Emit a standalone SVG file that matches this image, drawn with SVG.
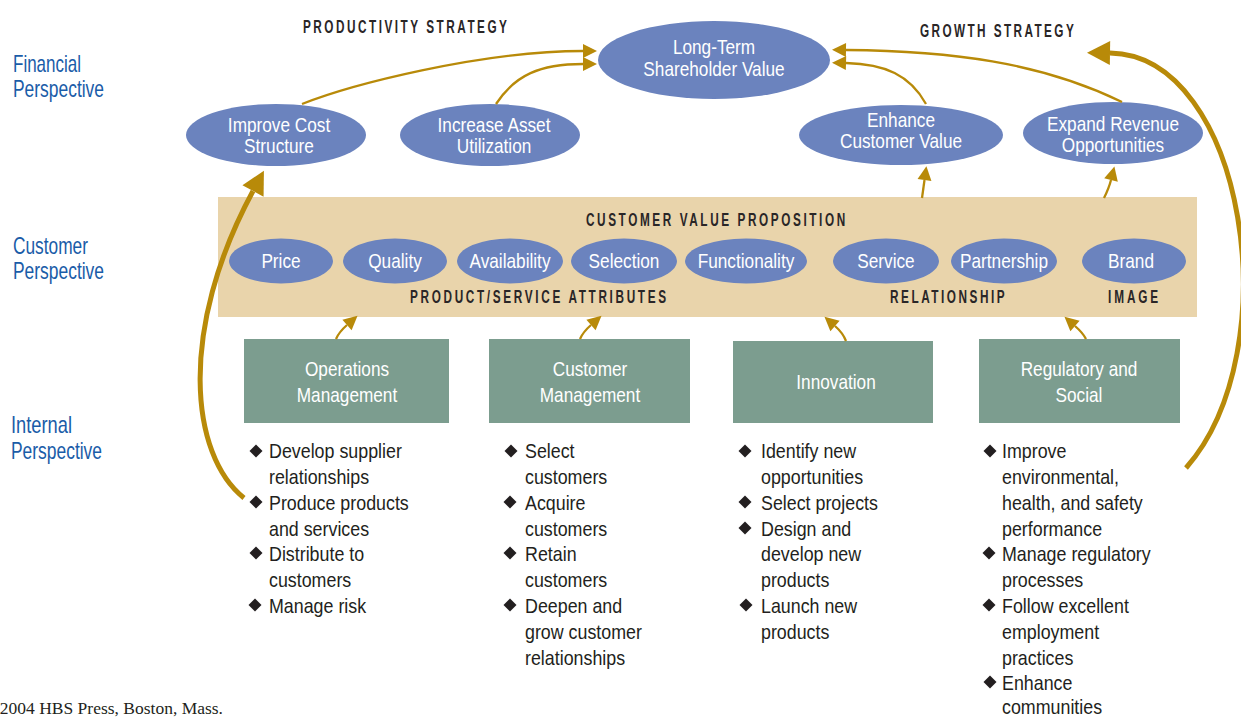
<svg xmlns="http://www.w3.org/2000/svg" width="1241" height="717" viewBox="0 0 1241 717">
<style>
  .n{font-family:"Liberation Sans",Arial,sans-serif;}
  .ell{fill:#6b83be;}
  .box{fill:#7c9d8f;}
  .wt{fill:#ffffff;font-size:21px;text-anchor:middle;}
  .cap{fill:#2a2627;font-size:19px;font-weight:bold;}
  .persp{fill:#1a5ca8;font-size:24px;}
  .bl{fill:#231f20;font-size:21px;}
  .dia{fill:#231f20;}
  .thin{fill:none;stroke:#b88a09;stroke-width:2.3;}
  .thick{fill:none;stroke:#b88a09;stroke-width:5;}
</style>
<defs>
  <marker id="ah" markerUnits="userSpaceOnUse" viewBox="0 -7 14 14" refX="0" refY="0" markerWidth="14" markerHeight="14" orient="auto" overflow="visible">
    <path d="M0,-7 L14,0 L0,7 Z" fill="#b88a09"/>
  </marker>
  <marker id="ahb" markerUnits="userSpaceOnUse" viewBox="0 -12 23 24" refX="0" refY="0" markerWidth="23" markerHeight="24" orient="auto" overflow="visible">
    <path d="M0,-12 L23,0 L0,12 Z" fill="#b88a09"/>
  </marker>
  <path id="d" d="M-6.5,0 L0,-6.5 L6.5,0 L0,6.5 Z"/>
</defs>
<rect width="1241" height="717" fill="#ffffff"/>

<g id="titles" class="n">
  <text class="cap" transform="translate(303,33) scale(0.62,1)" textLength="329" lengthAdjust="spacing">PRODUCTIVITY STRATEGY</text>
  <text class="cap" transform="translate(920,37) scale(0.62,1)" textLength="248" lengthAdjust="spacing">GROWTH STRATEGY</text>
</g>

<g id="perspectives" class="n">
  <text class="persp" x="13" y="72" textLength="68" lengthAdjust="spacingAndGlyphs">Financial</text>
  <text class="persp" x="13" y="97" textLength="91" lengthAdjust="spacingAndGlyphs">Perspective</text>
  <text class="persp" x="13" y="254" textLength="75" lengthAdjust="spacingAndGlyphs">Customer</text>
  <text class="persp" x="13" y="279" textLength="91" lengthAdjust="spacingAndGlyphs">Perspective</text>
  <text class="persp" x="11" y="433" textLength="61" lengthAdjust="spacingAndGlyphs">Internal</text>
  <text class="persp" x="11" y="459" textLength="91" lengthAdjust="spacingAndGlyphs">Perspective</text>
</g>

<g id="band">
  <rect x="218" y="197" width="979" height="120" fill="#e9d4ab"/>
  <g class="n">
    <text class="cap" transform="translate(586,226) scale(0.62,1)" textLength="418" lengthAdjust="spacing">CUSTOMER VALUE PROPOSITION</text>
    <text class="cap" transform="translate(410,303) scale(0.62,1)" textLength="413" lengthAdjust="spacing">PRODUCT/SERVICE ATTRIBUTES</text>
    <text class="cap" transform="translate(890,303) scale(0.62,1)" textLength="185" lengthAdjust="spacing">RELATIONSHIP</text>
    <text class="cap" transform="translate(1108,303) scale(0.62,1)" textLength="81" lengthAdjust="spacing">IMAGE</text>
  </g>
</g>

<g id="node-longterm" class="n">
  <ellipse class="ell" cx="714" cy="60" rx="116" ry="39"/>
  <text class="wt" transform="translate(714,54) scale(0.82,1)">Long-Term</text>
  <text class="wt" transform="translate(714,76) scale(0.82,1)">Shareholder Value</text>
</g>
<g id="node-improve-cost" class="n">
  <ellipse class="ell" cx="276" cy="135" rx="90" ry="31"/>
  <text class="wt" transform="translate(279,132) scale(0.82,1)">Improve Cost</text>
  <text class="wt" transform="translate(279,153) scale(0.82,1)">Structure</text>
</g>
<g id="node-increase-asset" class="n">
  <ellipse class="ell" cx="490" cy="135" rx="90" ry="31"/>
  <text class="wt" transform="translate(494,132) scale(0.82,1)">Increase Asset</text>
  <text class="wt" transform="translate(494,153) scale(0.82,1)">Utilization</text>
</g>
<g id="node-enhance" class="n">
  <ellipse class="ell" cx="901" cy="135" rx="102" ry="30"/>
  <text class="wt" transform="translate(901,127) scale(0.82,1)">Enhance</text>
  <text class="wt" transform="translate(901,148) scale(0.82,1)">Customer Value</text>
</g>
<g id="node-expand" class="n">
  <ellipse class="ell" cx="1113" cy="133" rx="90" ry="31"/>
  <text class="wt" transform="translate(1113,131) scale(0.82,1)">Expand Revenue</text>
  <text class="wt" transform="translate(1113,152) scale(0.82,1)">Opportunities</text>
</g>

<g id="node-price" class="n"><ellipse class="ell" cx="281" cy="261" rx="52" ry="22.5"/><text class="wt" transform="translate(281,268) scale(0.82,1)">Price</text></g>
<g id="node-quality" class="n"><ellipse class="ell" cx="395" cy="261" rx="52" ry="22.5"/><text class="wt" transform="translate(395,268) scale(0.82,1)">Quality</text></g>
<g id="node-availability" class="n"><ellipse class="ell" cx="510" cy="261" rx="53" ry="22.5"/><text class="wt" transform="translate(510,268) scale(0.82,1)">Availability</text></g>
<g id="node-selection" class="n"><ellipse class="ell" cx="624" cy="261" rx="53" ry="22.5"/><text class="wt" transform="translate(624,268) scale(0.82,1)">Selection</text></g>
<g id="node-functionality" class="n"><ellipse class="ell" cx="746" cy="261" rx="61" ry="22.5"/><text class="wt" transform="translate(746,268) scale(0.82,1)">Functionality</text></g>
<g id="node-service" class="n"><ellipse class="ell" cx="886" cy="261" rx="53" ry="22.5"/><text class="wt" transform="translate(886,268) scale(0.82,1)">Service</text></g>
<g id="node-partnership" class="n"><ellipse class="ell" cx="1004" cy="261" rx="53" ry="22.5"/><text class="wt" transform="translate(1004,268) scale(0.82,1)">Partnership</text></g>
<g id="node-brand" class="n"><ellipse class="ell" cx="1134" cy="261" rx="52" ry="22.5"/><text class="wt" transform="translate(1131,268) scale(0.82,1)">Brand</text></g>

<g id="node-operations" class="n">
  <rect class="box" x="244" y="339" width="205" height="84"/>
  <text class="wt" transform="translate(347,376) scale(0.82,1)">Operations</text>
  <text class="wt" transform="translate(347,402) scale(0.82,1)">Management</text>
</g>
<g id="node-customer-mgmt" class="n">
  <rect class="box" x="489" y="339" width="201" height="84"/>
  <text class="wt" transform="translate(590,376) scale(0.82,1)">Customer</text>
  <text class="wt" transform="translate(590,402) scale(0.82,1)">Management</text>
</g>
<g id="node-innovation" class="n">
  <rect class="box" x="733" y="341" width="200" height="82"/>
  <text class="wt" transform="translate(836,389) scale(0.82,1)">Innovation</text>
</g>
<g id="node-regulatory" class="n">
  <rect class="box" x="979" y="339" width="201" height="84"/>
  <text class="wt" transform="translate(1079,376) scale(0.82,1)">Regulatory and</text>
  <text class="wt" transform="translate(1079,402) scale(0.82,1)">Social</text>
</g>

<g id="list-operations" class="n">
  <use href="#d" class="dia" x="256" y="451"/>
  <use href="#d" class="dia" x="256" y="502"/>
  <use href="#d" class="dia" x="256" y="553"/>
  <use href="#d" class="dia" x="255" y="605"/>
  <text class="bl" transform="translate(269,458) scale(0.85,1)">Develop supplier</text>
  <text class="bl" transform="translate(269,484) scale(0.85,1)">relationships</text>
  <text class="bl" transform="translate(269,510) scale(0.85,1)">Produce products</text>
  <text class="bl" transform="translate(269,536) scale(0.85,1)">and services</text>
  <text class="bl" transform="translate(269,561) scale(0.85,1)">Distribute to</text>
  <text class="bl" transform="translate(269,587) scale(0.85,1)">customers</text>
  <text class="bl" transform="translate(269,613) scale(0.85,1)">Manage risk</text>
</g>
<g id="list-customer" class="n">
  <use href="#d" class="dia" x="511" y="451"/>
  <use href="#d" class="dia" x="510" y="502"/>
  <use href="#d" class="dia" x="510" y="553"/>
  <use href="#d" class="dia" x="510" y="605"/>
  <text class="bl" transform="translate(525,458) scale(0.85,1)">Select</text>
  <text class="bl" transform="translate(525,484) scale(0.85,1)">customers</text>
  <text class="bl" transform="translate(525,510) scale(0.85,1)">Acquire</text>
  <text class="bl" transform="translate(525,536) scale(0.85,1)">customers</text>
  <text class="bl" transform="translate(525,561) scale(0.85,1)">Retain</text>
  <text class="bl" transform="translate(525,587) scale(0.85,1)">customers</text>
  <text class="bl" transform="translate(525,613) scale(0.85,1)">Deepen and</text>
  <text class="bl" transform="translate(525,639) scale(0.85,1)">grow customer</text>
  <text class="bl" transform="translate(525,665) scale(0.85,1)">relationships</text>
</g>
<g id="list-innovation" class="n">
  <use href="#d" class="dia" x="745" y="451"/>
  <use href="#d" class="dia" x="745" y="502"/>
  <use href="#d" class="dia" x="745" y="528"/>
  <use href="#d" class="dia" x="746" y="605"/>
  <text class="bl" transform="translate(761,458) scale(0.85,1)">Identify new</text>
  <text class="bl" transform="translate(761,484) scale(0.85,1)">opportunities</text>
  <text class="bl" transform="translate(761,510) scale(0.85,1)">Select projects</text>
  <text class="bl" transform="translate(761,536) scale(0.85,1)">Design and</text>
  <text class="bl" transform="translate(761,561) scale(0.85,1)">develop new</text>
  <text class="bl" transform="translate(761,587) scale(0.85,1)">products</text>
  <text class="bl" transform="translate(761,613) scale(0.85,1)">Launch new</text>
  <text class="bl" transform="translate(761,639) scale(0.85,1)">products</text>
</g>
<g id="list-regulatory" class="n">
  <use href="#d" class="dia" x="990" y="451"/>
  <use href="#d" class="dia" x="989" y="553"/>
  <use href="#d" class="dia" x="989" y="605"/>
  <use href="#d" class="dia" x="990" y="682"/>
  <text class="bl" transform="translate(1002,458) scale(0.85,1)">Improve</text>
  <text class="bl" transform="translate(1002,484) scale(0.85,1)">environmental,</text>
  <text class="bl" transform="translate(1002,510) scale(0.85,1)">health, and safety</text>
  <text class="bl" transform="translate(1002,536) scale(0.85,1)">performance</text>
  <text class="bl" transform="translate(1002,561) scale(0.85,1)">Manage regulatory</text>
  <text class="bl" transform="translate(1002,587) scale(0.85,1)">processes</text>
  <text class="bl" transform="translate(1002,613) scale(0.85,1)">Follow excellent</text>
  <text class="bl" transform="translate(1002,639) scale(0.85,1)">employment</text>
  <text class="bl" transform="translate(1002,665) scale(0.85,1)">practices</text>
  <text class="bl" transform="translate(1002,690) scale(0.85,1)">Enhance</text>
  <text class="bl" transform="translate(1002,714) scale(0.85,1)">communities</text>
</g>

<g id="connectors">
  <path class="thin" d="M302 104 C350 85 480 51 583 51" marker-end="url(#ah)"/>
  <path class="thin" d="M496 104 C515 75 540 64 583 64" marker-end="url(#ah)"/>
  <path class="thin" d="M926 104 C910 75 885 64 846 63" marker-end="url(#ah)"/>
  <path class="thin" d="M1122 102 C1040 62 950 51 846 50" marker-end="url(#ah)"/>
  <path class="thin" d="M922 198 L924.5 180" marker-end="url(#ah)"/>
  <path class="thin" d="M1104 198 Q1109 188 1111 180" marker-end="url(#ah)"/>
  <path class="thin" d="M336 339 Q339 332 347 325" marker-end="url(#ah)"/>
  <path class="thin" d="M580 339 Q583 332 591 325" marker-end="url(#ah)"/>
  <path class="thin" d="M846 341 Q843 333 835 326" marker-end="url(#ah)"/>
  <path class="thin" d="M1086 339 Q1083 333 1075 326" marker-end="url(#ah)"/>
  <path class="thick" d="M244 498 C190 455 178 330 253 191" marker-end="url(#ahb)"/>
  <path class="thick" d="M1186 468 C1290 350 1245 55 1110 53" marker-end="url(#ahb)"/>
</g>

<text x="223" y="714" text-anchor="end" font-family="Liberation Serif,Times New Roman,serif" font-size="17.5" fill="#231f20">2004 HBS Press, Boston, Mass.</text>
</svg>
